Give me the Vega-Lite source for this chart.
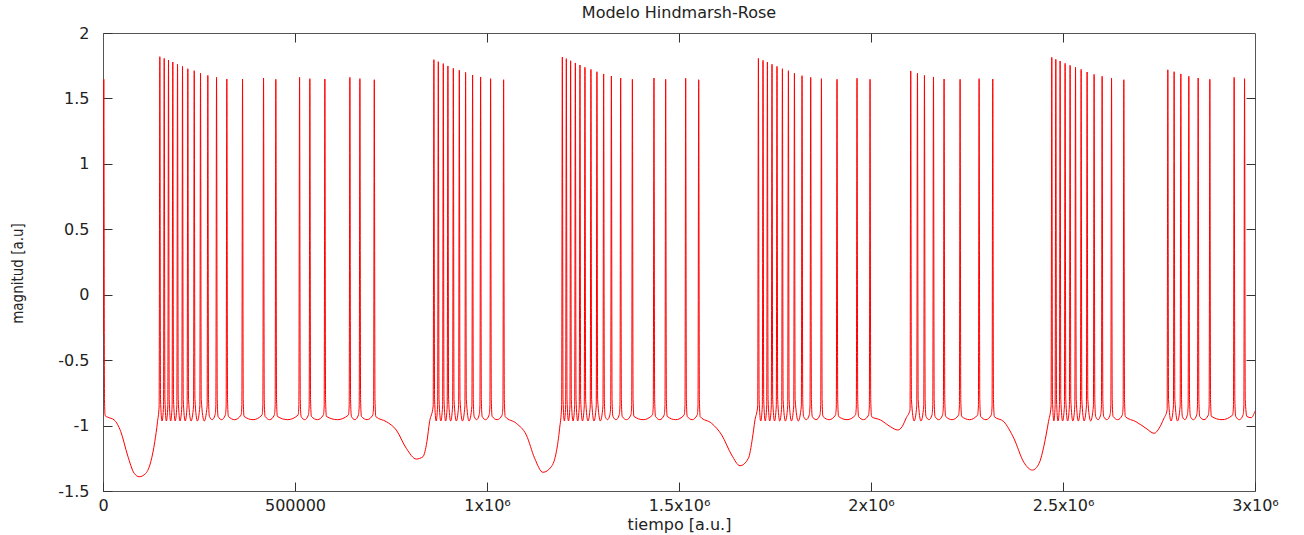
{
  "$schema": "https://vega.github.io/schema/vega-lite/v6.json",
  "width": 1152,
  "height": 458,
  "autosize": {"type": "none"},
  "padding": {"left": 103, "top": 33, "right": 49, "bottom": 44},
  "background": "white",
  "config": {
    "view": {"stroke": "#555555", "strokeWidth": 1},
    "font": "DejaVu Sans"
  },
  "title": {
    "text": "Modelo Hindmarsh-Rose",
    "font": "DejaVu Sans",
    "fontSize": 16,
    "fontWeight": "normal",
    "color": "#222222",
    "anchor": "middle",
    "offset": 4
  },
  "data": {
    "values": [
      {"t":0,"v":-0.3},{"t":2100,"v":1.646},{"t":3900,"v":-0.8},{"t":5500,"v":-0.924},
      {"t":11700,"v":-0.935},{"t":29200,"v":-0.957},{"t":46400,"v":-1.047},{"t":63800,"v":-1.225},{"t":81300,"v":-1.365},{"t":94300,"v":-1.391},{"t":111500,"v":-1.365},{"t":124500,"v":-1.276},{"t":134900,"v":-1.123},{"t":142000,"v":-0.97},
      {"t":146200,"v":-0.85},{"t":148000,"v":1.819},{"t":149800,"v":-0.8},{"t":153700,"v":-0.965},
      {"t":157600,"v":-0.85},{"t":159400,"v":1.806},{"t":161200,"v":-0.8},{"t":165000,"v":-0.965},
      {"t":168800,"v":-0.85},{"t":170600,"v":1.793},{"t":172400,"v":-0.8},{"t":176200,"v":-0.965},
      {"t":180000,"v":-0.85},{"t":181800,"v":1.778},{"t":183600,"v":-0.8},{"t":188000,"v":-0.965},
      {"t":192300,"v":-0.85},{"t":194100,"v":1.761},{"t":195900,"v":-0.8},{"t":200600,"v":-0.965},
      {"t":205300,"v":-0.85},{"t":207100,"v":1.745},{"t":208900,"v":-0.8},{"t":214000,"v":-0.965},
      {"t":219100,"v":-0.85},{"t":220900,"v":1.727},{"t":222700,"v":-0.8},{"t":229300,"v":-0.965},
      {"t":235800,"v":-0.85},{"t":237600,"v":1.712},{"t":239400,"v":-0.8},{"t":245800,"v":-0.965},
      {"t":252200,"v":-0.85},{"t":254000,"v":1.692},{"t":255800,"v":-0.8},{"t":263500,"v":-0.965},
      {"t":271200,"v":-0.85},{"t":273000,"v":1.676},{"t":274800,"v":-0.8},{"t":277000,"v":-0.93},{"t":284400,"v":-0.955},{"t":291700,"v":-0.92},
      {"t":293900,"v":-0.85},{"t":295700,"v":1.661},{"t":297500,"v":-0.8},{"t":299700,"v":-0.93},{"t":309100,"v":-0.955},{"t":318500,"v":-0.92},
      {"t":320700,"v":-0.85},{"t":322500,"v":1.648},{"t":324300,"v":-0.8},{"t":326500,"v":-0.93},{"t":343000,"v":-0.955},{"t":359400,"v":-0.92},
      {"t":361600,"v":-0.85},{"t":363400,"v":1.648},{"t":365200,"v":-0.8},{"t":367400,"v":-0.93},{"t":390800,"v":-0.955},{"t":414100,"v":-0.92},
      {"t":416300,"v":-0.85},{"t":418100,"v":1.656},{"t":419900,"v":-0.8},{"t":422100,"v":-0.93},{"t":434100,"v":-0.955},{"t":446100,"v":-0.92},
      {"t":448300,"v":-0.85},{"t":450100,"v":1.646},{"t":451900,"v":-0.8},{"t":454100,"v":-0.93},{"t":481000,"v":-0.955},{"t":507900,"v":-0.92},
      {"t":510100,"v":-0.85},{"t":511900,"v":1.661},{"t":513700,"v":-0.8},{"t":515900,"v":-0.93},{"t":525300,"v":-0.955},{"t":534700,"v":-0.92},
      {"t":536900,"v":-0.85},{"t":538700,"v":1.651},{"t":540500,"v":-0.8},{"t":542700,"v":-0.93},{"t":558300,"v":-0.955},{"t":573800,"v":-0.92},
      {"t":576000,"v":-0.85},{"t":577800,"v":1.648},{"t":579600,"v":-0.8},{"t":581800,"v":-0.93},{"t":610400,"v":-0.955},{"t":638900,"v":-0.92},
      {"t":641100,"v":-0.85},{"t":642900,"v":1.661},{"t":644700,"v":-0.8},{"t":646900,"v":-0.93},{"t":656000,"v":-0.955},{"t":665000,"v":-0.92},
      {"t":667200,"v":-0.85},{"t":669000,"v":1.651},{"t":670800,"v":-0.8},{"t":673000,"v":-0.93},{"t":687800,"v":-0.955},{"t":702500,"v":-0.92},
      {"t":704700,"v":-0.85},{"t":706500,"v":1.643},{"t":708300,"v":-0.8},
      {"t":710500,"v":-0.932},{"t":737700,"v":-0.97},{"t":763800,"v":-1.034},{"t":789800,"v":-1.174},{"t":815900,"v":-1.256},{"t":833100,"v":-1.238},{"t":843500,"v":-1.123},{"t":850500,"v":-0.97},
      {"t":859900,"v":-0.85},{"t":861700,"v":1.796},{"t":863500,"v":-0.8},{"t":867500,"v":-0.965},
      {"t":871400,"v":-0.85},{"t":873200,"v":1.781},{"t":875000,"v":-0.8},{"t":879700,"v":-0.965},
      {"t":884400,"v":-0.85},{"t":886200,"v":1.766},{"t":888000,"v":-0.8},{"t":892200,"v":-0.965},
      {"t":896400,"v":-0.85},{"t":898200,"v":1.748},{"t":900000,"v":-0.8},{"t":905300,"v":-0.965},
      {"t":910500,"v":-0.85},{"t":912300,"v":1.73},{"t":914100,"v":-0.8},{"t":920100,"v":-0.965},
      {"t":926100,"v":-0.85},{"t":927900,"v":1.715},{"t":929700,"v":-0.8},{"t":936100,"v":-0.965},
      {"t":942500,"v":-0.85},{"t":944300,"v":1.699},{"t":946100,"v":-0.8},{"t":953400,"v":-0.965},
      {"t":960700,"v":-0.85},{"t":962500,"v":1.679},{"t":964300,"v":-0.8},{"t":966500,"v":-0.93},{"t":973000,"v":-0.955},{"t":979400,"v":-0.92},
      {"t":981600,"v":-0.85},{"t":983400,"v":1.664},{"t":985200,"v":-0.8},{"t":987400,"v":-0.93},{"t":996400,"v":-0.955},{"t":1005400,"v":-0.92},
      {"t":1007600,"v":-0.85},{"t":1009400,"v":1.651},{"t":1011200,"v":-0.8},{"t":1013400,"v":-0.93},{"t":1026400,"v":-0.955},{"t":1039300,"v":-0.92},
      {"t":1041500,"v":-0.85},{"t":1043300,"v":1.643},{"t":1045100,"v":-0.8},
      {"t":1047500,"v":-0.932},{"t":1076400,"v":-0.983},{"t":1102400,"v":-1.072},{"t":1124100,"v":-1.25},{"t":1145700,"v":-1.357},{"t":1167600,"v":-1.314},{"t":1180600,"v":-1.2},{"t":1189200,"v":-1.02},
      {"t":1194400,"v":-0.85},{"t":1196200,"v":1.816},{"t":1198000,"v":-0.8},{"t":1201400,"v":-0.965},
      {"t":1204800,"v":-0.85},{"t":1206600,"v":1.804},{"t":1208400,"v":-0.8},{"t":1212200,"v":-0.965},
      {"t":1216000,"v":-0.85},{"t":1217800,"v":1.788},{"t":1219600,"v":-0.8},{"t":1224000,"v":-0.965},
      {"t":1228300,"v":-0.85},{"t":1230100,"v":1.771},{"t":1231900,"v":-0.8},{"t":1236100,"v":-0.965},
      {"t":1240300,"v":-0.85},{"t":1242100,"v":1.755},{"t":1243900,"v":-0.8},{"t":1248600,"v":-0.965},
      {"t":1253300,"v":-0.85},{"t":1255100,"v":1.738},{"t":1256900,"v":-0.8},{"t":1262900,"v":-0.965},
      {"t":1268900,"v":-0.85},{"t":1270700,"v":1.722},{"t":1272500,"v":-0.8},{"t":1278500,"v":-0.965},
      {"t":1284500,"v":-0.85},{"t":1286300,"v":1.704},{"t":1288100,"v":-0.8},{"t":1295100,"v":-0.965},
      {"t":1302000,"v":-0.85},{"t":1303800,"v":1.687},{"t":1305600,"v":-0.8},{"t":1307800,"v":-0.93},{"t":1313900,"v":-0.955},{"t":1319900,"v":-0.92},
      {"t":1322100,"v":-0.85},{"t":1323900,"v":1.671},{"t":1325700,"v":-0.8},{"t":1327900,"v":-0.93},{"t":1336000,"v":-0.955},{"t":1344100,"v":-0.92},
      {"t":1346300,"v":-0.85},{"t":1348100,"v":1.656},{"t":1349900,"v":-0.8},{"t":1352100,"v":-0.93},{"t":1363400,"v":-0.955},{"t":1374600,"v":-0.92},
      {"t":1376800,"v":-0.85},{"t":1378600,"v":1.646},{"t":1380400,"v":-0.8},{"t":1382600,"v":-0.93},{"t":1406700,"v":-0.955},{"t":1430800,"v":-0.92},
      {"t":1433000,"v":-0.85},{"t":1434800,"v":1.656},{"t":1436600,"v":-0.8},{"t":1438800,"v":-0.93},{"t":1450100,"v":-0.955},{"t":1461300,"v":-0.92},
      {"t":1463500,"v":-0.85},{"t":1465300,"v":1.646},{"t":1467100,"v":-0.8},{"t":1469300,"v":-0.93},{"t":1491400,"v":-0.955},{"t":1513400,"v":-0.92},
      {"t":1515600,"v":-0.85},{"t":1517400,"v":1.654},{"t":1519200,"v":-0.8},{"t":1521400,"v":-0.93},{"t":1534400,"v":-0.955},{"t":1547300,"v":-0.92},
      {"t":1549500,"v":-0.85},{"t":1551300,"v":1.643},{"t":1553100,"v":-0.8},
      {"t":1555300,"v":-0.932},{"t":1585100,"v":-0.983},{"t":1611200,"v":-1.072},{"t":1637200,"v":-1.225},{"t":1658900,"v":-1.307},{"t":1680700,"v":-1.25},{"t":1691200,"v":-1.097},{"t":1697900,"v":-0.957},
      {"t":1705000,"v":-0.85},{"t":1706800,"v":1.806},{"t":1708600,"v":-0.8},{"t":1712800,"v":-0.965},
      {"t":1717000,"v":-0.85},{"t":1718800,"v":1.791},{"t":1720600,"v":-0.8},{"t":1724500,"v":-0.965},
      {"t":1728400,"v":-0.85},{"t":1730200,"v":1.778},{"t":1732000,"v":-0.8},{"t":1736200,"v":-0.965},
      {"t":1740400,"v":-0.85},{"t":1742200,"v":1.761},{"t":1744000,"v":-0.8},{"t":1748700,"v":-0.965},
      {"t":1753400,"v":-0.85},{"t":1755200,"v":1.745},{"t":1757000,"v":-0.8},{"t":1762300,"v":-0.965},
      {"t":1767500,"v":-0.85},{"t":1769300,"v":1.727},{"t":1771100,"v":-0.8},{"t":1777100,"v":-0.965},
      {"t":1783100,"v":-0.85},{"t":1784900,"v":1.712},{"t":1786700,"v":-0.8},{"t":1792800,"v":-0.965},
      {"t":1798800,"v":-0.85},{"t":1800600,"v":1.692},{"t":1802400,"v":-0.8},{"t":1810500,"v":-0.965},
      {"t":1818600,"v":-0.85},{"t":1820400,"v":1.674},{"t":1822200,"v":-0.8},{"t":1824400,"v":-0.93},{"t":1831700,"v":-0.955},{"t":1839000,"v":-0.92},
      {"t":1841200,"v":-0.85},{"t":1843000,"v":1.661},{"t":1844800,"v":-0.8},{"t":1847000,"v":-0.93},{"t":1857000,"v":-0.955},{"t":1866900,"v":-0.92},
      {"t":1869100,"v":-0.85},{"t":1870900,"v":1.651},{"t":1872700,"v":-0.8},{"t":1874900,"v":-0.93},{"t":1891200,"v":-0.955},{"t":1907500,"v":-0.92},
      {"t":1909700,"v":-0.85},{"t":1911500,"v":1.646},{"t":1913300,"v":-0.8},{"t":1915500,"v":-0.93},{"t":1937600,"v":-0.955},{"t":1959600,"v":-0.92},
      {"t":1961800,"v":-0.85},{"t":1963600,"v":1.654},{"t":1965400,"v":-0.8},{"t":1967600,"v":-0.93},{"t":1980600,"v":-0.955},{"t":1993500,"v":-0.92},
      {"t":1995700,"v":-0.85},{"t":1997500,"v":1.646},{"t":1999300,"v":-0.8},
      {"t":2001500,"v":-0.932},{"t":2024600,"v":-0.957},{"t":2050700,"v":-1.009},{"t":2069700,"v":-1.034},{"t":2080900,"v":-1.009},{"t":2092000,"v":-0.94},
      {"t":2101700,"v":-0.88},{"t":2103500,"v":1.71},{"t":2105300,"v":-0.8},{"t":2112300,"v":-0.965},
      {"t":2119200,"v":-0.85},{"t":2121000,"v":1.692},{"t":2122800,"v":-0.8},{"t":2130100,"v":-0.965},
      {"t":2137400,"v":-0.85},{"t":2139200,"v":1.676},{"t":2141000,"v":-0.8},{"t":2143200,"v":-0.93},{"t":2151000,"v":-0.955},{"t":2158700,"v":-0.92},
      {"t":2160900,"v":-0.85},{"t":2162700,"v":1.664},{"t":2164500,"v":-0.8},{"t":2166700,"v":-0.93},{"t":2176500,"v":-0.955},{"t":2186300,"v":-0.92},
      {"t":2188500,"v":-0.85},{"t":2190300,"v":1.648},{"t":2192100,"v":-0.8},{"t":2194300,"v":-0.93},{"t":2211200,"v":-0.955},{"t":2228000,"v":-0.92},
      {"t":2230200,"v":-0.85},{"t":2232000,"v":1.646},{"t":2233800,"v":-0.8},{"t":2236000,"v":-0.93},{"t":2256800,"v":-0.955},{"t":2277500,"v":-0.92},
      {"t":2279700,"v":-0.85},{"t":2281500,"v":1.651},{"t":2283300,"v":-0.8},{"t":2285500,"v":-0.93},{"t":2299300,"v":-0.955},{"t":2313100,"v":-0.92},
      {"t":2315300,"v":-0.85},{"t":2317100,"v":1.648},{"t":2318900,"v":-0.8},
      {"t":2321300,"v":-0.932},{"t":2345800,"v":-0.97},{"t":2371900,"v":-1.097},{"t":2397900,"v":-1.28},{"t":2420600,"v":-1.34},{"t":2437800,"v":-1.288},{"t":2450800,"v":-1.149},{"t":2462200,"v":-0.97},
      {"t":2469000,"v":-0.85},{"t":2470800,"v":1.814},{"t":2472600,"v":-0.8},{"t":2476100,"v":-0.965},
      {"t":2479500,"v":-0.85},{"t":2481300,"v":1.799},{"t":2483100,"v":-0.8},{"t":2486900,"v":-0.965},
      {"t":2490700,"v":-0.85},{"t":2492500,"v":1.786},{"t":2494300,"v":-0.8},{"t":2499000,"v":-0.965},
      {"t":2503700,"v":-0.85},{"t":2505500,"v":1.768},{"t":2507300,"v":-0.8},{"t":2512000,"v":-0.965},
      {"t":2516700,"v":-0.85},{"t":2518500,"v":1.753},{"t":2520300,"v":-0.8},{"t":2525600,"v":-0.965},
      {"t":2530800,"v":-0.85},{"t":2532600,"v":1.738},{"t":2534400,"v":-0.8},{"t":2539900,"v":-0.965},
      {"t":2545400,"v":-0.85},{"t":2547200,"v":1.722},{"t":2549000,"v":-0.8},{"t":2555000,"v":-0.965},
      {"t":2561000,"v":-0.85},{"t":2562800,"v":1.702},{"t":2564600,"v":-0.8},{"t":2571900,"v":-0.965},
      {"t":2579200,"v":-0.85},{"t":2581000,"v":1.684},{"t":2582800,"v":-0.8},{"t":2585000,"v":-0.93},{"t":2591500,"v":-0.955},{"t":2597900,"v":-0.92},
      {"t":2600100,"v":-0.85},{"t":2601900,"v":1.669},{"t":2603700,"v":-0.8},{"t":2605900,"v":-0.93},{"t":2614200,"v":-0.955},{"t":2622400,"v":-0.92},
      {"t":2624600,"v":-0.85},{"t":2626400,"v":1.654},{"t":2628200,"v":-0.8},{"t":2630400,"v":-0.93},{"t":2642400,"v":-0.955},{"t":2654400,"v":-0.92},
      {"t":2656600,"v":-0.85},{"t":2658400,"v":1.643},{"t":2660200,"v":-0.8},
      {"t":2662400,"v":-0.932},{"t":2689700,"v":-0.97},{"t":2715700,"v":-1.02},{"t":2737300,"v":-1.059},{"t":2750400,"v":-1.02},{"t":2762000,"v":-0.95},
      {"t":2771200,"v":-0.88},{"t":2773000,"v":1.719},{"t":2774800,"v":-0.8},{"t":2781200,"v":-0.965},
      {"t":2787600,"v":-0.85},{"t":2789400,"v":1.704},{"t":2791200,"v":-0.8},{"t":2798200,"v":-0.965},
      {"t":2805100,"v":-0.85},{"t":2806900,"v":1.687},{"t":2808700,"v":-0.8},{"t":2810900,"v":-0.93},{"t":2817300,"v":-0.955},{"t":2823700,"v":-0.92},
      {"t":2825900,"v":-0.85},{"t":2827700,"v":1.669},{"t":2829500,"v":-0.8},{"t":2831700,"v":-0.93},{"t":2839900,"v":-0.955},{"t":2848000,"v":-0.92},
      {"t":2850200,"v":-0.85},{"t":2852000,"v":1.656},{"t":2853800,"v":-0.8},{"t":2856000,"v":-0.93},{"t":2867200,"v":-0.955},{"t":2878400,"v":-0.92},
      {"t":2880600,"v":-0.85},{"t":2882400,"v":1.646},{"t":2884200,"v":-0.8},{"t":2886400,"v":-0.93},{"t":2914100,"v":-0.955},{"t":2941700,"v":-0.92},
      {"t":2943900,"v":-0.85},{"t":2945700,"v":1.661},{"t":2947500,"v":-0.8},{"t":2949700,"v":-0.93},{"t":2959300,"v":-0.955},{"t":2968800,"v":-0.92},
      {"t":2971000,"v":-0.85},{"t":2972800,"v":1.651},{"t":2974600,"v":-0.8},
      {"t":2978800,"v":-0.93},{"t":2990000,"v":-0.94},{"t":3000000,"v":-0.89}
    ]
  },
  "layer": [
    {
      "mark": {"type": "line", "color": "#ff0000", "strokeWidth": 1, "interpolate": "monotone", "clip": true},
      "encoding": {
        "x": {
          "field": "t",
          "type": "quantitative",
          "scale": {"domain": [0, 3000000], "nice": false, "zero": false},
          "axis": {
            "orient": "bottom",
            "values": [0, 500000, 1000000, 1500000, 2000000, 2500000, 3000000],
            "labelExpr": "datum.value == 0 ? '0' : datum.value == 500000 ? '500000' : (datum.value / 1000000) + 'x10⁶'",
            "labelFlush": false,
            "labelOverlap": false,
            "labelFont": "DejaVu Sans",
            "labelFontSize": 16,
            "labelColor": "#222222",
            "labelPadding": 15,
            "tickSize": -9,
            "tickColor": "#333333",
            "domain": false,
            "grid": false,
            "title": "tiempo [a.u.]",
            "titleFont": "DejaVu Sans",
            "titleFontSize": 16,
            "titleFontWeight": "normal",
            "titleColor": "#222222",
            "titlePadding": 3
          }
        },
        "y": {
          "field": "v",
          "type": "quantitative",
          "scale": {"domain": [-1.5, 2], "nice": false, "zero": false},
          "axis": {
            "orient": "left",
            "values": [-1.5, -1, -0.5, 0, 0.5, 1, 1.5, 2],
            "labelExpr": "'' + datum.value",
            "labelFont": "DejaVu Sans",
            "labelFontSize": 16,
            "labelColor": "#222222",
            "labelPadding": 23,
            "tickSize": -9,
            "tickColor": "#333333",
            "domain": false,
            "grid": false,
            "title": "magnitud [a.u]",
            "titleFont": "DejaVu Sans Condensed, Liberation Sans Narrow, Liberation Sans",
            "titleFontSize": 15,
            "titleFontWeight": "normal",
            "titleColor": "#222222",
            "titleY": 240,
            "titlePadding": 32
          }
        }
      }
    },
    {
      "mark": {"type": "line", "strokeOpacity": 0, "interpolate": "linear"},
      "encoding": {
        "x": {
          "field": "t",
          "type": "quantitative",
          "scale": {"domain": [0, 3000000], "nice": false, "zero": false},
          "axis": {
            "orient": "top",
            "values": [500000, 1000000, 1500000, 2000000, 2500000],
            "labels": false,
            "tickSize": -9,
            "tickColor": "#333333",
            "domain": false,
            "grid": false,
            "title": null
          }
        },
        "y": {
          "field": "v",
          "type": "quantitative",
          "scale": {"domain": [-1.5, 2], "nice": false, "zero": false},
          "axis": {
            "orient": "right",
            "values": [-1, -0.5, 0, 0.5, 1, 1.5],
            "labels": false,
            "tickSize": -9,
            "tickColor": "#333333",
            "domain": false,
            "grid": false,
            "title": null
          }
        }
      }
    }
  ],
  "resolve": {"axis": {"x": "independent", "y": "independent"}}
}
